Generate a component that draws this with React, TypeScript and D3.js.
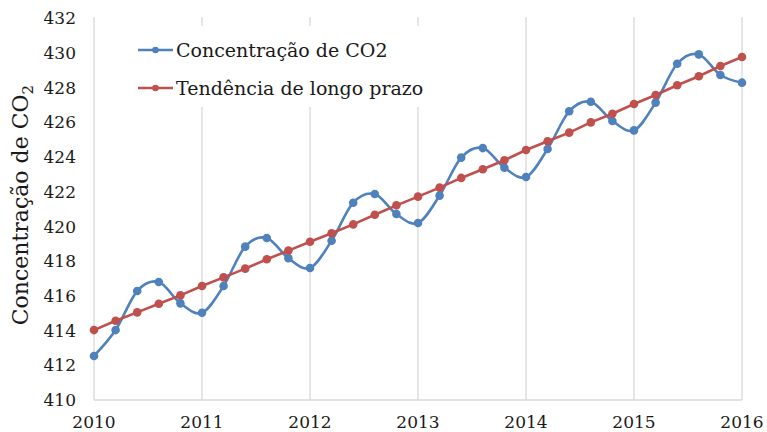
import React from "react";
import * as d3 from "d3";

const years = [
  2010, 2010.2, 2010.4, 2010.6, 2010.8,
  2011, 2011.2, 2011.4, 2011.6, 2011.8,
  2012, 2012.2, 2012.4, 2012.6, 2012.8,
  2013, 2013.2, 2013.4, 2013.6, 2013.8,
  2014, 2014.2, 2014.4, 2014.6, 2014.8,
  2015, 2015.2, 2015.4, 2015.6, 2015.8,
  2016,
];

const co2 = [
  412.54, 414.03, 416.28, 416.8, 415.57,
  415.03, 416.57, 418.84, 419.34, 418.17,
  417.61, 419.18, 421.37, 421.87, 420.72,
  420.2, 421.78, 423.97, 424.52, 423.39,
  422.85, 424.47, 426.64, 427.19, 426.08,
  425.54, 427.14, 429.38, 429.92, 428.73,
  428.29,
];

const trend = [
  414.03, 414.57, 415.05, 415.55, 416.03,
  416.57, 417.07, 417.57, 418.11, 418.61,
  419.12, 419.61, 420.12, 420.68, 421.22,
  421.72, 422.24, 422.8, 423.3, 423.82,
  424.41, 424.91, 425.41, 426.0, 426.5,
  427.06, 427.58, 428.14, 428.66, 429.25,
  429.77,
];

const xTicks = [2010, 2011, 2012, 2013, 2014, 2015, 2016];
const yTicks = [410, 412, 414, 416, 418, 420, 422, 424, 426, 428, 430, 432];
const seriesNames = ["Concentração de CO2", "Tendência de longo prazo"];

const W = 767;
const H = 432;
const left = 94;
const right = 742;
const top = 18.3;
const bottom = 400;

const BLUE = "#4F81BD";
const RED = "#C0504D";
const GRID = "#D9D9D9";
const FONT = "'DejaVu Serif', serif";

export default function App() {
  const x = d3.scaleLinear().domain([2010, 2016]).range([left, right]);
  const y = d3.scaleLinear().domain([410, 432]).range([bottom, top]);

  const smooth = d3
    .line<number>()
    .x((_, i) => x(years[i]))
    .y((d) => y(d))
    .curve(d3.curveCardinal.tension(0));
  const straight = d3
    .line<number>()
    .x((_, i) => x(years[i]))
    .y((d) => y(d));

  const series = [
    { name: seriesNames[0], values: co2, color: BLUE, path: smooth(co2) },
    { name: seriesNames[1], values: trend, color: RED, path: straight(trend) },
  ];

  const legendRows = [50, 88];

  return (
    <svg
      width={W}
      height={H}
      style={{ position: "absolute", left: 0, top: 0, background: "#fff" }}
    >
      <rect x={0} y={0} width={W} height={H} fill="#fff" />
      {/* vertical gridlines */}
      {xTicks.map((t) => (
        <line
          key={t}
          x1={x(t)}
          x2={x(t)}
          y1={top - 1}
          y2={bottom}
          stroke={GRID}
          strokeWidth={1.3}
        />
      ))}
      {/* bottom axis */}
      <line x1={left} x2={right} y1={bottom} y2={bottom} stroke={GRID} strokeWidth={1.5} />

      {/* y tick labels */}
      {yTicks.map((t) => (
        <text
          key={t}
          x={76}
          y={y(t)}
          textAnchor="end"
          dominantBaseline="central"
          fontFamily={FONT}
          fontSize={17}
          fill="#1a1a1a"
        >
          {t}
        </text>
      ))}
      {/* x tick labels */}
      {xTicks.map((t) => (
        <text
          key={t}
          x={x(t)}
          y={427.5}
          textAnchor="middle"
          fontFamily={FONT}
          fontSize={17}
          fill="#1a1a1a"
        >
          {t}
        </text>
      ))}

      {/* y axis title */}
      <text
        transform={`translate(28, ${(top + bottom) / 2 - 4}) rotate(-90)`}
        textAnchor="middle"
        fontFamily={FONT}
        fontSize={22}
        fill="#1a1a1a"
      >
        Concentração de CO
        <tspan fontSize={15} dy={5}>2</tspan>
      </text>

      {/* legend background */}
      <rect x={134} y={26} width={302} height={81} fill="#fff" />

      {/* series */}
      {series.map((s) => (
        <g key={s.name}>
          <path d={s.path || ""} fill="none" stroke={s.color} strokeWidth={2.6} />
          {s.values.map((v, i) => (
            <circle key={i} cx={x(years[i])} cy={y(v)} r={4.3} fill={s.color} />
          ))}
        </g>
      ))}

      {/* legend */}
      {series.map((s, i) => (
        <g key={s.name}>
          <line
            x1={138}
            x2={173}
            y1={legendRows[i]}
            y2={legendRows[i]}
            stroke={s.color}
            strokeWidth={2.6}
          />
          <circle cx={155.5} cy={legendRows[i]} r={3.3} fill={s.color} />
          <text
            x={176}
            y={legendRows[i]}
            dominantBaseline="central"
            fontFamily={FONT}
            fontSize={19}
            fill="#1a1a1a"
          >
            {s.name}
          </text>
        </g>
      ))}
    </svg>
  );
}
